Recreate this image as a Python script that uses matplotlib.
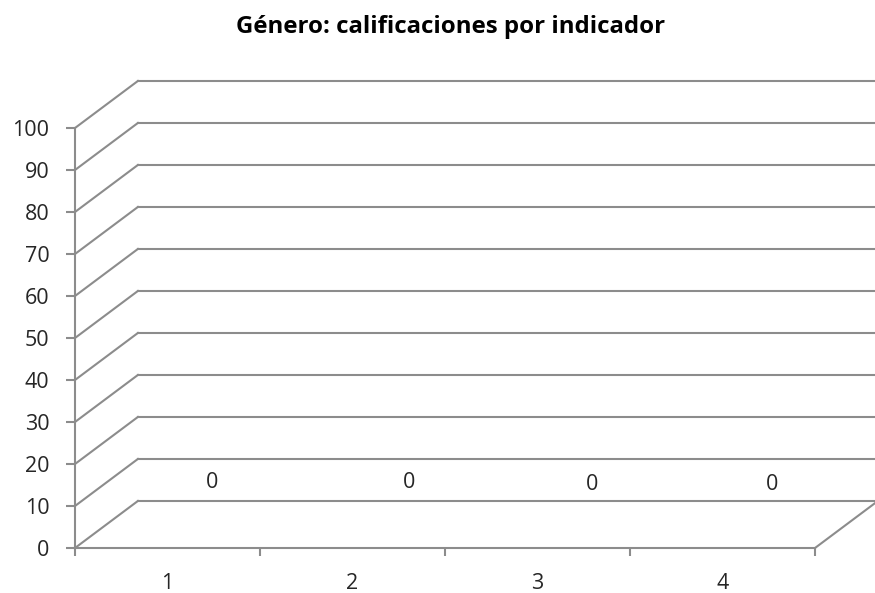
import matplotlib.pyplot as plt
import numpy as np

plt.rcParams['font.family'] = ['Open Sans', 'DejaVu Sans']

# Data
categories = ['1', '2', '3', '4']
values = [0, 0, 0, 0]
y_ticks = list(range(0, 101, 10))
title = 'Género: calificaciones por indicador'

# Pseudo-3D depth offsets (data units)
depth_x = 0.34
depth_y = 11.2
# where the value labels sit on the back wall, per category
lab_dx = [0.24, 0.305, 0.295, 0.27]
lab_dy = [15.7, 15.5, 15.0, 15.0]
grid_col = '#8c8c8c'
txt_col = '#262626'

W, H = 875, 593
fig = plt.figure(figsize=(W / 100, H / 100), dpi=100)
# front plot box in pixels: x 75..815, y 548..128
ax = fig.add_axes([75 / W, (H - 548) / H, (815 - 75) / W, (548 - 128) / H])
ax.set_xlim(0, len(categories))
ax.set_ylim(0, 100)

# back wall gridlines and left side wall diagonals
for v in y_ticks:
    ax.plot([0, depth_x], [v, v + depth_y], color=grid_col, lw=1.5, clip_on=False)
    ax.plot([depth_x, len(categories) + depth_x + 0.2], [v + depth_y, v + depth_y],
            color=grid_col, lw=1.5, clip_on=False)
# floor right edge
ax.plot([len(categories), len(categories) + depth_x], [0, depth_y],
        color=grid_col, lw=1.5, clip_on=False)

# data labels (all bars are zero height)
for i, val in enumerate(values):
    ax.text(i + 0.5 + lab_dx[i], val + lab_dy[i], str(val), ha='center', va='center',
            fontsize=15.5, color=txt_col)

for s in ['top', 'right']:
    ax.spines[s].set_visible(False)
for s in ['left', 'bottom']:
    ax.spines[s].set_color(grid_col)
    ax.spines[s].set_linewidth(1.5)

ax.set_yticks(y_ticks)
ax.set_yticklabels([str(t) for t in y_ticks])
ax.set_xticks(np.arange(len(categories) + 1))
ax.set_xticklabels([])
ax.set_xticks(np.arange(len(categories)) + 0.5, minor=True)
ax.set_xticklabels(categories, minor=True)
ax.tick_params(axis='y', length=6.5, width=1.5, color=grid_col, labelsize=15.5,
               labelcolor=txt_col, pad=12)
ax.tick_params(axis='x', which='major', length=6, width=1.5, color=grid_col)
ax.tick_params(axis='x', which='minor', length=0, labelsize=15.5,
               labelcolor=txt_col, pad=18)
ax.patch.set_alpha(0)

fig.text(451 / W, 1 - 33 / H, title, ha='center', va='baseline',
         fontsize=17.3, fontweight='bold', color='black')

fig.savefig('out.png', dpi=100)
